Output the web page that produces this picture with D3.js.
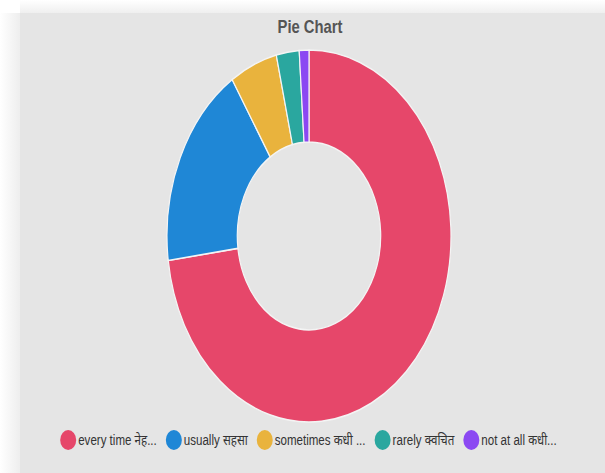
<!DOCTYPE html>
<html>
<head>
<meta charset="utf-8">
<script src="https://cdn.jsdelivr.net/npm/d3@7"></script>
<style>
html,body{margin:0;padding:0;background:#fff;}
svg{display:block;}
</style>
</head>
<body>
<svg id="chart" width="605" height="473"></svg>
<script>
const categories = ["every time नेहमी", "usually सहसा", "sometimes कधी कधी", "rarely क्वचित", "not at all कधीच नाही"];
const legendLabels = ["every time नेह...", "usually सहसा", "sometimes कधी ...", "rarely क्वचित", "not at all कधी..."];
const values = [72.9, 18.0, 5.4, 2.6, 1.1];
const colors = ["#e6476a", "#1f87d6", "#e9b33d", "#2aa79f", "#8b48f2"];
const title = "Pie Chart";

const W = 605, H = 473;
const svg = d3.select("#chart");

const defs = svg.append("defs");
const gl = defs.append("linearGradient").attr("id","shL").attr("x1","0").attr("x2","1").attr("y1","0").attr("y2","0");
gl.append("stop").attr("offset","0").attr("stop-color","#ffffff");
gl.append("stop").attr("offset","0.4").attr("stop-color","#f8f8f8");
gl.append("stop").attr("offset","1").attr("stop-color","#eeeeee");
const gt = defs.append("linearGradient").attr("id","shT").attr("x1","0").attr("x2","0").attr("y1","0").attr("y2","1");
gt.append("stop").attr("offset","0").attr("stop-color","#ffffff");
gt.append("stop").attr("offset","0.5").attr("stop-color","#f7f7f7");
gt.append("stop").attr("offset","1").attr("stop-color","#efefef");

const cardX = 20, cardY = 13;
svg.append("rect").attr("x",0).attr("y",0).attr("width",W).attr("height",H).attr("fill","#fff");
svg.append("rect").attr("x",0).attr("y",cardY).attr("width",cardX).attr("height",H-cardY).attr("fill","url(#shL)");
svg.append("rect").attr("x",cardX).attr("y",0).attr("width",W-cardX).attr("height",cardY).attr("fill","url(#shT)");
svg.append("rect").attr("x",cardX).attr("y",cardY).attr("width",W-cardX).attr("height",H-cardY).attr("fill","#e5e5e5");

// title
const sx = 0.8;
svg.append("g").attr("transform",`translate(310,33) scale(${sx},1)`)
  .append("text").attr("text-anchor","middle")
  .attr("font-family","Liberation Sans, Arial, sans-serif")
  .attr("font-weight","bold").attr("font-size",18.5).attr("fill","#555")
  .text(title);

// donut
const cx = 309, cy = 236, r = 142, sy = 186/142;
const pie = d3.pie().sort(null).value(d => d);
const arc = d3.arc().innerRadius(r*0.505).outerRadius(r);
const color = d3.scaleOrdinal().domain(categories).range(colors);
const g = svg.append("g").attr("transform",`translate(${cx},${cy}) scale(1,${sy})`);
g.selectAll("path").data(pie(values)).join("path")
  .attr("d", arc)
  .attr("fill", (d,i) => color(categories[i]))
  .attr("stroke", "#f4f4f4").attr("stroke-width", 1.2);

// legend
const lsx = 0.77;
const lg = svg.append("g");
const items = lg.selectAll("g.item").data(legendLabels).join("g").attr("class","item");
const crx = 8, cry = 10, gap1 = 2, gap2 = 9;
items.append("ellipse").attr("rx",crx).attr("ry",cry).attr("fill",(d,i)=>color(categories[i]));
items.append("text")
  .attr("font-family","Liberation Sans, Arial, Noto Sans, sans-serif")
  .attr("font-size",15).attr("fill","#333").attr("dy","0.35em")
  .text(d=>d);
let widths = [];
items.select("text").each(function(){ widths.push(this.getComputedTextLength()*lsx); });
let total = 0;
widths.forEach((w,i)=>{ total += 2*crx + gap1 + w + (i<widths.length-1?gap2:0); });
let x0 = 308.5 - total/2;
const ly = 440;
items.each(function(d,i){
  const it = d3.select(this);
  it.select("ellipse").attr("cx", x0+crx).attr("cy", ly);
  it.select("text").attr("transform",`translate(${x0+2*crx+gap1},${ly}) scale(${lsx},1)`);
  x0 += 2*crx + gap1 + widths[i] + gap2;
});
</script>
</body>
</html>
